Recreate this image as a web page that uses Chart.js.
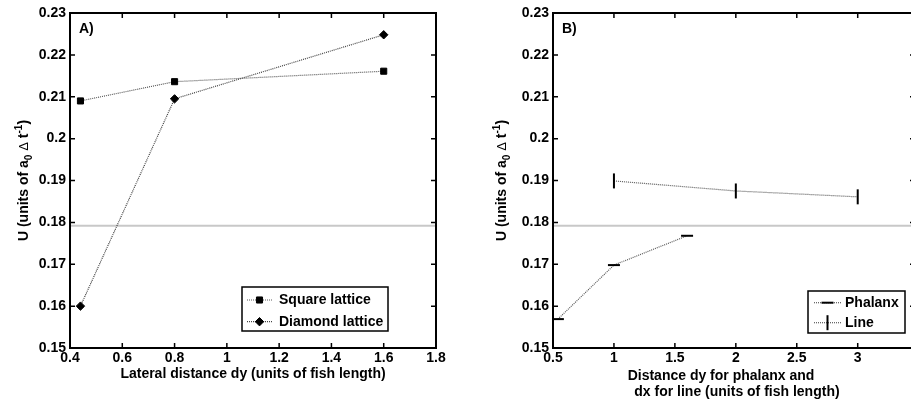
<!DOCTYPE html>
<html>
<head>
<meta charset="utf-8">
<script src="https://cdn.jsdelivr.net/npm/chart.js@4/dist/chart.umd.min.js"></script>
<style>
  html, body { margin: 0; padding: 0; background: #fff; overflow: hidden; width: 911px; height: 403px; }
  #chartA { position: absolute; left: 0; top: 0; }
  #chartB { position: absolute; left: 450px; top: 0; }
</style>
</head>
<body>
<canvas id="chartA" width="460" height="403"></canvas>
<canvas id="chartB" width="480" height="403"></canvas>
<script>
// Shared vertical scale: swimming speed U
const yTicks = [0.15, 0.16, 0.17, 0.18, 0.19, 0.2, 0.21, 0.22, 0.23];
const refLevel = 0.1792;            // single-fish reference speed

// Panel A: lattice arrangements vs lateral distance dy
const xTicksA = [0.4, 0.6, 0.8, 1, 1.2, 1.4, 1.6, 1.8];
const spacingA = [0.44, 0.8, 1.6];
const squareU = [0.209, 0.2136, 0.2161];
const diamondU = [0.160, 0.2095, 0.2248];

// Panel B: phalanx (vs dy) and line (vs dx)
const xTicksB = [0.5, 1, 1.5, 2, 2.5, 3];
const phalanxD = [0.54, 1.0, 1.6];
const phalanxU = [0.1569, 0.1698, 0.1768];
const lineD = [1, 2, 3];
const lineU = [0.1899, 0.1875, 0.1861];

const FONT = '"Liberation Sans", Arial, Helvetica, sans-serif';
const BOLD14 = 'bold 14px ' + FONT;

function pts(xs, ys) { return xs.map((x, i) => ({ x: x, y: ys[i] })); }
function fixedTicks(values) { return function (scale) { scale.ticks = values.map(v => ({ value: v })); }; }
function noPad(s) { s.paddingLeft = 0; s.paddingRight = 0; s.paddingTop = 0; s.paddingBottom = 0; }

function drawMarker(ctx, ds, x, y) {
  ctx.save();
  ctx.fillStyle = ds.pointBackgroundColor;
  ctx.strokeStyle = ds.pointBorderColor;
  ctx.lineWidth = ds.pointBorderWidth;
  Chart.helpers.drawPoint(ctx, {
    pointStyle: ds.pointStyle,
    rotation: ds.pointRotation || 0,
    radius: ds.pointRadius,
    borderWidth: ds.pointBorderWidth
  }, x, y);
  ctx.restore();
}

// Y axis title with subscript / superscript pieces, drawn rotated
function drawYTitle(ctx, x, yc) {
  const parts = [
    { t: 'U (units of a', f: BOLD14, dy: 0 },
    { t: '0', f: 'bold 10px ' + FONT, dy: 4 },
    { t: ' ', f: BOLD14, dy: 0 },
    { t: '\u0394', f: '13px ' + FONT, dy: 0 },
    { t: ' t', f: BOLD14, dy: 0 },
    { t: '-1', f: 'bold 10px ' + FONT, dy: -6 },
    { t: ')', f: BOLD14, dy: 0 }
  ];
  ctx.save();
  ctx.translate(x, yc);
  ctx.rotate(-Math.PI / 2);
  ctx.fillStyle = '#000';
  ctx.textBaseline = 'alphabetic';
  ctx.textAlign = 'left';
  let total = 0;
  parts.forEach(p => { ctx.font = p.f; p.w = ctx.measureText(p.t).width; total += p.w; });
  let cx = -total / 2;
  parts.forEach(p => { ctx.font = p.f; ctx.fillText(p.t, cx, p.dy); cx += p.w; });
  ctx.restore();
}

function makeFrame(cfg) {
  return {
    id: 'frame',
    beforeDatasetsDraw(chart) {
      const { ctx, chartArea: a, scales: { y } } = chart;
      const yy = y.getPixelForValue(refLevel);
      ctx.save();
      ctx.strokeStyle = '#c8c8c8';
      ctx.lineWidth = 2;
      ctx.beginPath();
      ctx.moveTo(a.left, yy);
      ctx.lineTo(a.right, yy);
      ctx.stroke();
      ctx.restore();
    },
    afterDraw(chart) {
      const { ctx, chartArea: a, scales: { x, y } } = chart;
      ctx.save();
      // inward tick marks on all four sides
      ctx.strokeStyle = '#000';
      ctx.lineWidth = 1.5;
      ctx.beginPath();
      cfg.xTicks.forEach(v => {
        const px = x.getPixelForValue(v);
        ctx.moveTo(px, a.bottom); ctx.lineTo(px, a.bottom - 5);
        ctx.moveTo(px, a.top); ctx.lineTo(px, a.top + 5);
      });
      yTicks.forEach(v => {
        const py = y.getPixelForValue(v);
        ctx.moveTo(a.left, py); ctx.lineTo(a.left + 5, py);
        ctx.moveTo(a.right, py); ctx.lineTo(a.right - 5, py);
      });
      ctx.stroke();
      // axes box
      ctx.lineWidth = 2;
      ctx.strokeRect(a.left, a.top, a.right - a.left, a.bottom - a.top);

      // panel tag
      ctx.fillStyle = '#000';
      ctx.font = BOLD14;
      ctx.textBaseline = 'middle';
      ctx.textAlign = 'left';
      ctx.fillText(cfg.tag, a.left + 9, a.top + 16);

      // x axis title
      ctx.textAlign = 'center';
      cfg.xTitle.forEach(line => {
        ctx.fillText(line.t, (a.left + a.right) / 2 + line.dx, a.bottom + line.dy);
      });

      // y axis title
      drawYTitle(ctx, a.left - cfg.yTitleGap, (a.top + a.bottom) / 2);

      // legend box
      const L = cfg.legend;
      const bx = a.left + L.x, by = a.bottom - L.y;
      ctx.fillStyle = '#fff';
      ctx.fillRect(bx, by, L.w, L.h);
      ctx.strokeStyle = '#000';
      ctx.lineWidth = 1.5;
      ctx.strokeRect(bx, by, L.w, L.h);
      chart.data.datasets.forEach((ds, i) => {
        const ey = by + L.rows[i];
        ctx.save();
        ctx.strokeStyle = ds.borderColor;
        ctx.lineWidth = ds.borderWidth;
        ctx.setLineDash(ds.borderDash);
        ctx.beginPath();
        ctx.moveTo(bx + L.s0, ey);
        ctx.lineTo(bx + L.s1, ey);
        ctx.stroke();
        ctx.restore();
        drawMarker(ctx, ds, bx + (L.s0 + L.s1) / 2, ey);
        ctx.fillStyle = '#000';
        ctx.font = BOLD14;
        ctx.textAlign = 'left';
        ctx.textBaseline = 'middle';
        ctx.fillText(ds.label, bx + L.tx, ey);
      });
      ctx.restore();
    }
  };
}

function seriesStyle(label, data, style) {
  return Object.assign({
    label: label,
    data: data,
    borderColor: '#5a5a5a',
    borderWidth: 1.2,
    borderDash: [1, 1],
    fill: false,
    tension: 0,
    pointBackgroundColor: '#000',
    pointBorderColor: '#000',
    pointBorderWidth: 1
  }, style);
}

function axisTicks(values, padding) {
  return {
    font: { family: FONT, size: 14, weight: 'bold' },
    color: '#000',
    padding: padding,
    maxRotation: 0,
    autoSkip: false,
    callback: v => String(v)
  };
}

function makeOptions(xMin, xMax, xTickVals, yWidth, padRight) {
  return {
    responsive: false,
    animation: false,
    events: [],
    layout: { padding: { top: 13, right: padRight, left: 0, bottom: 0 } },
    plugins: { legend: { display: false }, tooltip: { enabled: false } },
    scales: {
      x: {
        type: 'linear', min: xMin, max: xMax,
        grid: { display: false, drawTicks: false }, border: { display: false },
        ticks: axisTicks(xTickVals, 2),
        afterBuildTicks: fixedTicks(xTickVals),
        afterFit(s) { s.height = 55; noPad(s); }
      },
      y: {
        type: 'linear', min: 0.15, max: 0.23,
        grid: { display: false, drawTicks: false }, border: { display: false },
        ticks: axisTicks(yTicks, 4),
        afterBuildTicks: fixedTicks(yTicks),
        afterFit(s) { s.width = yWidth; noPad(s); }
      }
    }
  };
}

// Panel A
new Chart(document.getElementById('chartA'), {
  type: 'line',
  data: {
    datasets: [
      seriesStyle('Square lattice', pts(spacingA, squareU), { pointStyle: 'rect', pointRadius: 4.3 }),
      seriesStyle('Diamond lattice', pts(spacingA, diamondU), { pointStyle: 'rectRot', pointRadius: 4.2, borderColor: '#444' })
    ]
  },
  options: makeOptions(0.4, 1.8, xTicksA, 70, 24),
  plugins: [makeFrame({
    tag: 'A)',
    xTicks: xTicksA,
    xTitle: [{ t: 'Lateral distance dy (units of fish length)', dx: 0, dy: 26 }],
    yTitleGap: 42,
    legend: { x: 172, y: 61, w: 146, h: 44, rows: [13, 34.7], s0: 5, s1: 30, tx: 37 }
  })]
});

// Panel B
new Chart(document.getElementById('chartB'), {
  type: 'line',
  data: {
    datasets: [
      seriesStyle('Phalanx', pts(phalanxD, phalanxU), { pointStyle: 'line', pointRadius: 6, pointBorderWidth: 2 }),
      seriesStyle('Line', pts(lineD, lineU), { pointStyle: 'line', pointRotation: 90, pointRadius: 7.5, pointBorderWidth: 2 })
    ]
  },
  options: makeOptions(0.5, 3.47, xTicksB, 103, 15),
  plugins: [makeFrame({
    tag: 'B)',
    xTicks: xTicksB,
    xTitle: [
      { t: 'Distance dy for phalanx and', dx: -13, dy: 27.7 },
      { t: ' dx for line (units of fish length)', dx: 1, dy: 44 }
    ],
    yTitleGap: 47,
    legend: { x: 255, y: 57, w: 97, h: 42, rows: [11.7, 31.7], s0: 6, s1: 33, tx: 37 }
  })]
});
</script>
</body>
</html>
